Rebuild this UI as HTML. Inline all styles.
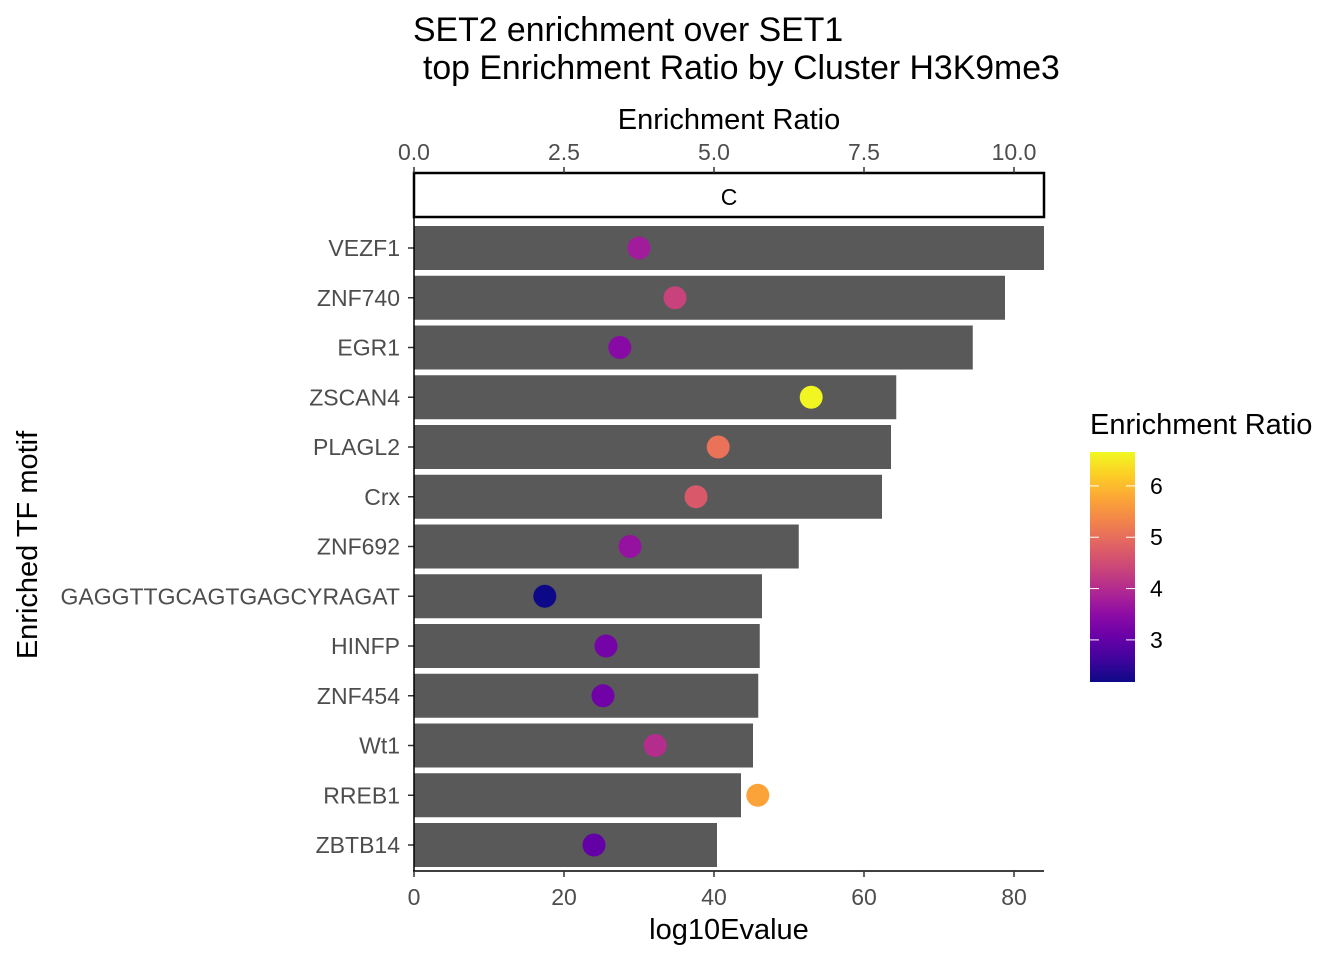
<!DOCTYPE html>
<html><head><meta charset="utf-8"><style>
body{margin:0;background:#fff;font-family:"Liberation Sans",sans-serif}
svg text{font-family:"Liberation Sans",sans-serif}
</style></head><body>
<svg id="chart" width="1344" height="960" xmlns="http://www.w3.org/2000/svg">
<defs><linearGradient id="cb" x1="0" y1="1" x2="0" y2="0">
<stop offset="0" stop-color="#0d0887"/><stop offset="0.1" stop-color="#41049d"/><stop offset="0.2" stop-color="#6a00a8"/><stop offset="0.3" stop-color="#8f0da4"/><stop offset="0.4" stop-color="#b12a90"/><stop offset="0.5" stop-color="#cc4778"/><stop offset="0.6" stop-color="#e16462"/><stop offset="0.7" stop-color="#f2844b"/><stop offset="0.8" stop-color="#fca636"/><stop offset="0.9" stop-color="#fcce25"/><stop offset="1" stop-color="#f0f921"/></linearGradient></defs>
<text x="413" y="41" font-size="33.8">SET2 enrichment over SET1</text>
<text x="423" y="79" font-size="33.8">top Enrichment Ratio by Cluster H3K9me3</text>
<text x="729" y="129" font-size="29" text-anchor="middle">Enrichment Ratio</text>
<text x="729" y="939" font-size="29" text-anchor="middle">log10Evalue</text>
<text transform="translate(37,545) rotate(-90)" font-size="29" text-anchor="middle">Enriched TF motif</text>
<rect x="414" y="173" width="630" height="44" fill="#fff" stroke="#000" stroke-width="2.5"/>
<text x="729" y="205" font-size="23" text-anchor="middle">C</text>
<g id="plot"></g>
<text x="1090" y="434" font-size="29">Enrichment Ratio</text>
<rect x="1090" y="452" width="45" height="230" fill="url(#cb)"/>
<g id="legend"></g>
</svg>
<script>
const motifs=["VEZF1","ZNF740","EGR1","ZSCAN4","PLAGL2","Crx","ZNF692","GAGGTTGCAGTGAGCYRAGAT","HINFP","ZNF454","Wt1","RREB1","ZBTB14"];
const evalues=[84,78.8,74.5,64.3,63.6,62.4,51.3,46.4,46.1,45.9,45.2,43.6,40.4];
const ratios=[3.75,4.35,3.43,6.62,5.07,4.7,3.6,2.18,3.2,3.15,4.02,5.73,3.0];
const bottomTicks=[0,20,40,60,80];
const topTicks=["0.0","2.5","5.0","7.5","10.0"];
const legendTicks=[3,4,5,6];
const NS="http://www.w3.org/2000/svg";
const xE=v=>414+v*7.5, xR=v=>414+v*60;
const yRow=i=>248+i*49.75;
const cMin=2.18,cMax=6.66;
const yC=v=>682-(v-cMin)/(cMax-cMin)*230;
const hex=["0d0887","41049d","6a00a8","8f0da4","b12a90","cc4778","e16462","f2844b","fca636","fcce25","f0f921"].map(h=>[0,2,4].map(k=>parseInt(h.substr(k,2),16)));
function col(v){let t=Math.max(0,Math.min(1,(v-cMin)/(cMax-cMin)))*10;const i=Math.min(9,Math.floor(t)),f=t-i;const a=hex[i],b=hex[i+1];return "rgb("+a.map((c,k)=>Math.round(c+(b[k]-c)*f)).join(",")+")";}
function mk(p,tag,at,txt){const e=document.createElementNS(NS,tag);for(const k in at)e.setAttribute(k,at[k]);if(txt!==undefined)e.textContent=txt;p.appendChild(e);return e;}
const g=document.getElementById("plot"),lg=document.getElementById("legend");
motifs.forEach((m,i)=>{
 const y=yRow(i);
 const b=mk(g,"rect",{x:414,y:y-22,width:xE(evalues[i])-414,height:44,fill:"#595959"});
 
 
 const c=mk(g,"circle",{cx:xR(ratios[i]),cy:y,r:11.5,fill:col(ratios[i])});
 
 
 mk(g,"line",{x1:408,x2:414,y1:y,y2:y,stroke:"#333","stroke-width":1.5});
 const t=mk(g,"text",{x:400,y:y+8,"font-size":23,"text-anchor":"end",fill:"#4d4d4d"},m);
 
 
});
mk(g,"line",{x1:414,x2:414,y1:218,y2:871,stroke:"#000","stroke-width":1.5});
mk(g,"line",{x1:413,x2:1044,y1:871,y2:871,stroke:"#000","stroke-width":1.5});
bottomTicks.forEach(v=>{const x=xE(v);mk(g,"line",{x1:x,x2:x,y1:871,y2:877,stroke:"#333","stroke-width":1.5});
 const t=mk(g,"text",{x:x,y:905,"font-size":23,"text-anchor":"middle",fill:"#4d4d4d"},String(v));
 
 });
topTicks.forEach(s=>{const x=xR(parseFloat(s));mk(g,"line",{x1:x,x2:x,y1:167,y2:173,stroke:"#333","stroke-width":1.5});
 const t=mk(g,"text",{x:x,y:160,"font-size":23,"text-anchor":"middle",fill:"#4d4d4d"},s);
 
 });
legendTicks.forEach(v=>{const y=yC(v);
 mk(lg,"line",{x1:1090,x2:1099,y1:y,y2:y,stroke:"#fff","stroke-width":1});
 mk(lg,"line",{x1:1126,x2:1135,y1:y,y2:y,stroke:"#fff","stroke-width":1});
 const t=mk(lg,"text",{x:1150,y:y+8,"font-size":23,fill:"#000"},String(v));
 
 });
</script>
</body></html>
